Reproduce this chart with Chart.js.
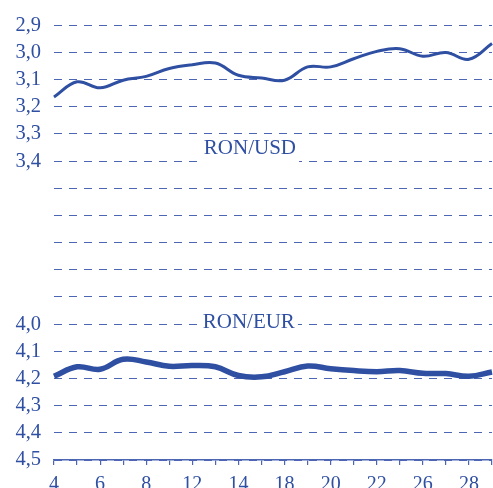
<!DOCTYPE html>
<html>
<head>
<meta charset="utf-8">
<script src="https://cdn.jsdelivr.net/npm/chart.js@4/dist/chart.umd.min.js"></script>
<style>
html,body{margin:0;padding:0;background:#fff;}
#wrap{width:493px;height:488px;position:relative;}
</style>
</head>
<body>
<div id="wrap"><canvas id="c" width="493" height="488"></canvas></div>
<script>
// Trading days of the month (categories)
const days = ['4','5','6','7','8','11','12','13','14','15','18','19','20','21','22','25','26','27','28','29'];
// Days that carry a tick label
const xTickLabels = ['4','6','8','12','14','18','20','22','26','28'];
// RON per USD
const ronUsd = [3.164,3.108,3.130,3.102,3.088,3.059,3.045,3.039,3.084,3.094,3.102,3.053,3.053,3.023,2.996,2.986,3.014,3.000,3.025,2.967];
// RON per EUR
const ronEur = [4.192,4.157,4.166,4.129,4.139,4.155,4.152,4.157,4.189,4.194,4.175,4.154,4.164,4.171,4.175,4.171,4.181,4.182,4.192,4.176];
// Y tick labels that are printed
const yTickLabels = ['2,9','3,0','3,1','3,2','3,3','3,4','4,0','4,1','4,2','4,3','4,4','4,5'];
// Series names and where they are written (value on y-axis, category position on x-axis)
const seriesNames = ['RON/USD','RON/EUR'];
const namePosY = [3.352, 3.993];
const namePosX = [8.5, 8.45];

const blue = '#2f4fa2';
const gridBlue = '#4c66b3';
const serif = "'Liberation Serif','Times New Roman',serif";

const labelPlugin = {
  id: 'seriesNames',
  afterDraw(chart) {
    const {ctx, scales: {x, y}} = chart;
    ctx.save();
    ctx.font = '21px ' + serif;
    ctx.textAlign = 'center';
    ctx.textBaseline = 'alphabetic';
    seriesNames.forEach((n, i) => {
      const cx = x.getPixelForValue(namePosX[i]);
      const cy = y.getPixelForValue(namePosY[i]);
      const w = ctx.measureText(n).width;
      const base = cy + 6;
      ctx.fillStyle = '#ffffff';
      ctx.fillRect(cx - w / 2 - 3, base - 16, w + 6, i === 0 ? 24 : 22);
      ctx.fillStyle = blue;
      ctx.fillText(n, cx, base);
    });
    ctx.restore();
  }
};

new Chart(document.getElementById('c'), {
  type: 'line',
  data: {
    labels: days,
    datasets: [
      {label: 'RON/USD', data: ronUsd, borderColor: blue, borderWidth: 3, pointRadius: 0, tension: 0.4, fill: false},
      {label: 'RON/EUR', data: ronEur, borderColor: blue, borderWidth: 5.5, pointRadius: 0, tension: 0.4, fill: false}
    ]
  },
  options: {
    responsive: false,
    animation: false,
    events: [],
    layout: {padding: {top: 25, right: 1, left: 0, bottom: 0}},
    plugins: {legend: {display: false}, tooltip: {enabled: false}, title: {display: false}},
    scales: {
      x: {
        type: 'category',
        offset: false,
        grid: {display: true, drawOnChartArea: false, drawTicks: true, tickLength: 5, color: gridBlue, lineWidth: 1.2},
        border: {display: true, color: gridBlue, width: 1.5},
        ticks: {
          autoSkip: false, maxRotation: 0, minRotation: 0, padding: 8,
          color: blue, font: {family: serif, size: 20},
          callback: function(v, i) { const l = days[i]; return xTickLabels.includes(l) ? l : ''; }
        },
        afterFit: s => { s.height = 28; s.paddingLeft = 0; s.paddingRight = 0; }
      },
      y: {
        type: 'linear',
        reverse: true,
        min: 2.9, max: 4.5,
        afterBuildTicks: s => {
          const t = [];
          for (let k = 0; k <= 16; k++) t.push({value: Math.round((2.9 + k * 0.1) * 10) / 10});
          s.ticks = t;
        },
        grid: {color: gridBlue, lineWidth: 1, drawTicks: false},
        border: {display: false, dash: [8, 7]},
        ticks: {
          autoSkip: false,
          color: blue, padding: 13, font: {family: serif, size: 20.5},
          callback: v => { const s = v.toFixed(1).replace('.', ','); return yTickLabels.includes(s) ? s : ''; }
        },
        afterFit: s => { s.width = 54; }
      }
    }
  },
  plugins: [labelPlugin]
});
</script>
</body>
</html>
